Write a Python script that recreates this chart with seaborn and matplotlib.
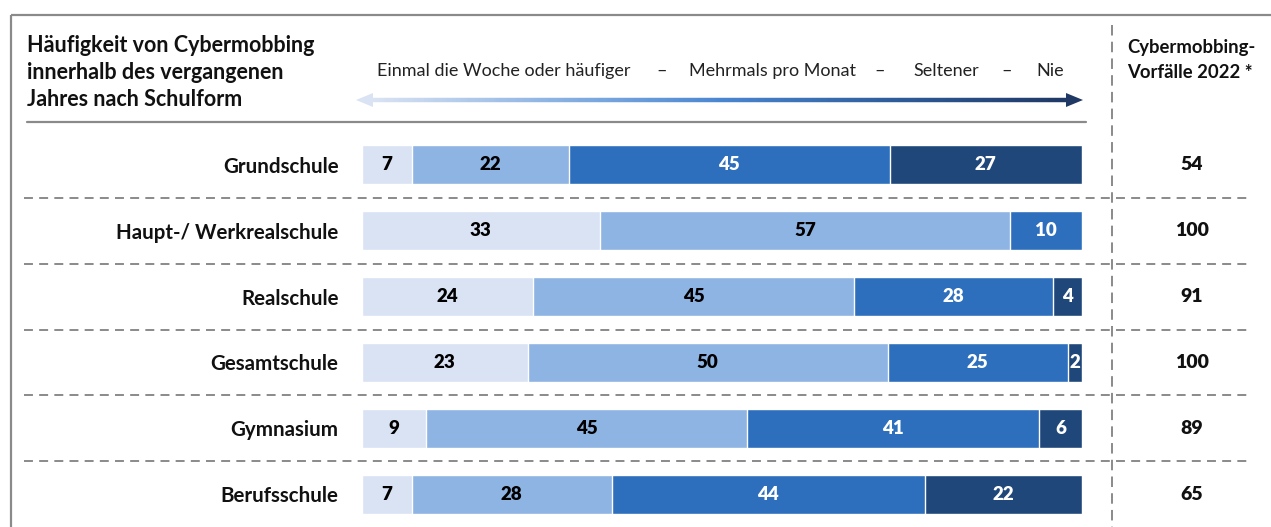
import matplotlib

matplotlib.use("Agg")
import matplotlib.pyplot as plt
import numpy as np
import pandas as pd
import seaborn as sns
from matplotlib.collections import LineCollection
from matplotlib.colors import LinearSegmentedColormap
from matplotlib.patches import Polygon
from matplotlib.transforms import blended_transform_factory

# Chart data.
SCHOOLS = [
    "Grundschule",
    "Haupt-/ Werkrealschule",
    "Realschule",
    "Gesamtschule",
    "Gymnasium",
    "Berufsschule",
]
FREQUENCIES = ["Einmal die Woche oder häufiger", "Mehrmals pro Monat", "Seltener", "Nie"]
WEEKLY = [7, 33, 24, 23, 9, 7]
MONTHLY = [22, 57, 45, 50, 45, 28]
RARELY = [45, 10, 28, 25, 41, 44]
NEVER = [27, 0, 4, 2, 6, 22]
INCIDENTS_2022 = [54, 100, 91, 100, 89, 65]

TITLE_LINES = ["Häufigkeit von Cybermobbing", "innerhalb des vergangenen", "Jahres nach Schulform"]
RIGHT_HEADER = ["Cybermobbing-", "Vorfälle 2022 *"]

COLORS = ["#dae3f3", "#8eb4e3", "#2e6fbd", "#1f477a"]
TEXT_COLORS = ["black", "black", "white", "white"]
GRAY = "#8a8a8a"

W, H = 1271, 527


def build_table() -> tuple[pd.DataFrame, pd.DataFrame]:
    df = pd.DataFrame(
        {"school": SCHOOLS, FREQUENCIES[0]: WEEKLY, FREQUENCIES[1]: MONTHLY,
         FREQUENCIES[2]: RARELY, FREQUENCIES[3]: NEVER}
    ).set_index("school")
    # The bars in the original are normalised to a full 100 % width.
    share = df.div(df.sum(axis=1), axis=0) * 100
    return df, share


def main() -> None:
    sns.set_theme(style="white")
    plt.rcParams["font.family"] = ["Lato", "DejaVu Sans"]

    counts, share = build_table()
    cum = share.cumsum(axis=1)

    fig = plt.figure(figsize=(W / 100, H / 100), dpi=100)
    ax = fig.add_axes([362 / W, 0, 720 / W, 395 / H])

    # Stack by drawing the cumulative totals from the widest to the narrowest.
    for i in reversed(range(len(FREQUENCIES))):
        col = FREQUENCIES[i]
        sns.barplot(
            x=cum[col].values, y=SCHOOLS, order=SCHOOLS, orient="h",
            color=COLORS[i], saturation=1, width=0.59,
            edgecolor="white", linewidth=1.0, ax=ax,
        )

    for r, school in enumerate(SCHOOLS):
        for i, col in enumerate(FREQUENCIES):
            val = counts.loc[school, col]
            if val == 0:
                continue
            mid = cum.loc[school, col] - share.loc[school, col] / 2
            ax.text(mid, r, str(val), ha="center", va="center",
                    fontsize=13.5, fontweight="heavy", color=TEXT_COLORS[i])

    ax.set_xlim(0, 100)
    ax.set_ylim(len(SCHOOLS) - 0.5, -0.5)
    ax.set_xlabel("")
    ax.set_ylabel("")
    ax.set_xticks([])
    ax.tick_params(axis="y", length=0, pad=17)
    for lab in ax.get_yticklabels():
        lab.set_fontsize(14.8)
        lab.set_fontweight("bold")
        lab.set_color("#111111")
    sns.despine(ax=ax, left=True, bottom=True)
    ax.patch.set_alpha(0)

    # Dashed row separators and incident numbers, x in figure coords, y in data coords.
    trans = blended_transform_factory(fig.transFigure, ax.transData)
    for r in range(len(SCHOOLS) - 1):
        ax.plot([24 / W, 1252 / W], [r + 0.5, r + 0.5], transform=trans,
                color=GRAY, lw=1.4, dashes=(4.6, 3.2), clip_on=False)
    for r, n in enumerate(INCIDENTS_2022):
        ax.text(1192 / W, r, str(n), transform=trans, ha="center", va="center",
                fontsize=14, fontweight="heavy", color="#111111")

    # Overlay in pixel coordinates for the frame, header and arrow.
    ov = fig.add_axes([0, 0, 1, 1], zorder=-1)
    ov.set_xlim(0, W)
    ov.set_ylim(H, 0)
    ov.axis("off")

    ov.plot([11, W], [15, 15], color=GRAY, lw=1.6, solid_capstyle="butt")
    ov.plot([11, 11], [15, H], color=GRAY, lw=1.6, solid_capstyle="butt")
    ov.plot([27, 1086], [122, 122], color=GRAY, lw=1.6)
    ov.plot([1112, 1112], [25, H], color=GRAY, lw=1.4, dashes=(5.4, 3.2))

    for k, line in enumerate(TITLE_LINES):
        ov.text(27, 45 + 27.5 * k, line, ha="left", va="center",
                fontsize=15.5, fontweight="bold", color="#111111")
    for k, line in enumerate(RIGHT_HEADER):
        ov.text(1127, 47 + 25 * k, line, ha="left", va="center",
                fontsize=13.3, fontweight="bold", color="#111111")

    header_x = [377, 689, 913, 1036]
    dash_x = [662, 880, 1007]
    for x, label in zip(header_x, FREQUENCIES):
        ov.text(x, 71, label, ha="left", va="center", fontsize=13, color="#222222")
    for x in dash_x:
        ov.text(x, 71, "–", ha="center", va="center", fontsize=13, color="#222222")

    # Gradient double arrow from light to dark blue.
    cmap = LinearSegmentedColormap.from_list(
        "arrow", ["#dae3f3", "#8eb4e3", "#4a86d0", "#2e5c9a", "#1f3864"]
    )
    xs = np.linspace(370, 1069, 300)
    segs = [[(xs[j], 100), (xs[j + 1], 100)] for j in range(len(xs) - 1)]
    ov.add_collection(LineCollection(
        segs, colors=cmap(np.linspace(0, 1, len(segs))), linewidths=3.2,
        capstyle="butt"))
    ov.add_patch(Polygon([(356, 100), (373, 93), (373, 107)], closed=True,
                         color="#dae3f3", lw=0))
    ov.add_patch(Polygon([(1083, 100), (1066, 93), (1066, 107)], closed=True,
                         color="#1f3864", lw=0))

    fig.savefig("out.png", dpi=100, facecolor="white")
    plt.close(fig)


if __name__ == "__main__":
    main()
